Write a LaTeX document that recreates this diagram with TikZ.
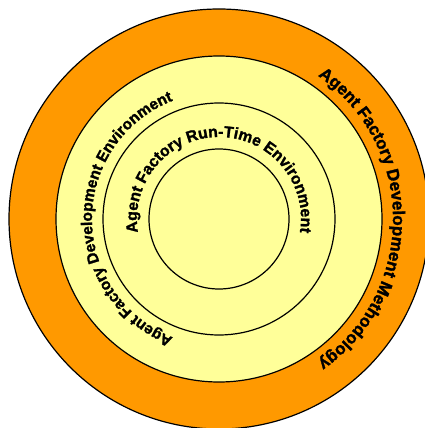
\documentclass[tikz,border=0pt]{standalone}
\usepackage{fontspec}
\setmainfont{Liberation Sans}
\newfontfamily\heavyfamily{Liberation Sans}[BoldFeatures={FakeBold=1.6}]
\usetikzlibrary{decorations.text}
\definecolor{ringorange}{RGB}{255,153,0}
\definecolor{ringyellow}{RGB}{255,255,153}
\newcommand{\ringfont}[1]{\heavyfamily\bfseries\fontsize{#1}{18}\selectfont}
\tikzset{
  ring/.style={draw=black, line width=1.2pt},
  ringtext/.style={decorate, decoration={text along path, text align=center, text={#1}}}
}
\begin{document}
\begin{tikzpicture}
  \useasboundingbox (-219pt,-209pt) rectangle (205pt,219pt);

  % Draw rings
  \draw[ring, fill=ringorange] (0,0) circle (210pt);
  \draw[ring, fill=ringyellow] (0,0) circle (163pt);
  \draw[ring, fill=ringyellow] (0,0) circle (116pt);
  \draw[ring, fill=ringyellow] (0,0) circle (70pt);

  % Ring labels, read clockwise
  \path[ringtext={|\ringfont{17}|Agent Factory Development Methodology}]
    (90:174pt) arc (90:-90:174pt);
  \path[ringtext={|\ringfont{15.5}|Agent Factory Development Environment}]
    (270:127pt) arc (270:90:127pt);
  \path[ringtext={|\ringfont{15.8}|Agent Factory Run-Time Environment}]
    (200:82pt) arc (200:-20:82pt);
\end{tikzpicture}
\end{document}
